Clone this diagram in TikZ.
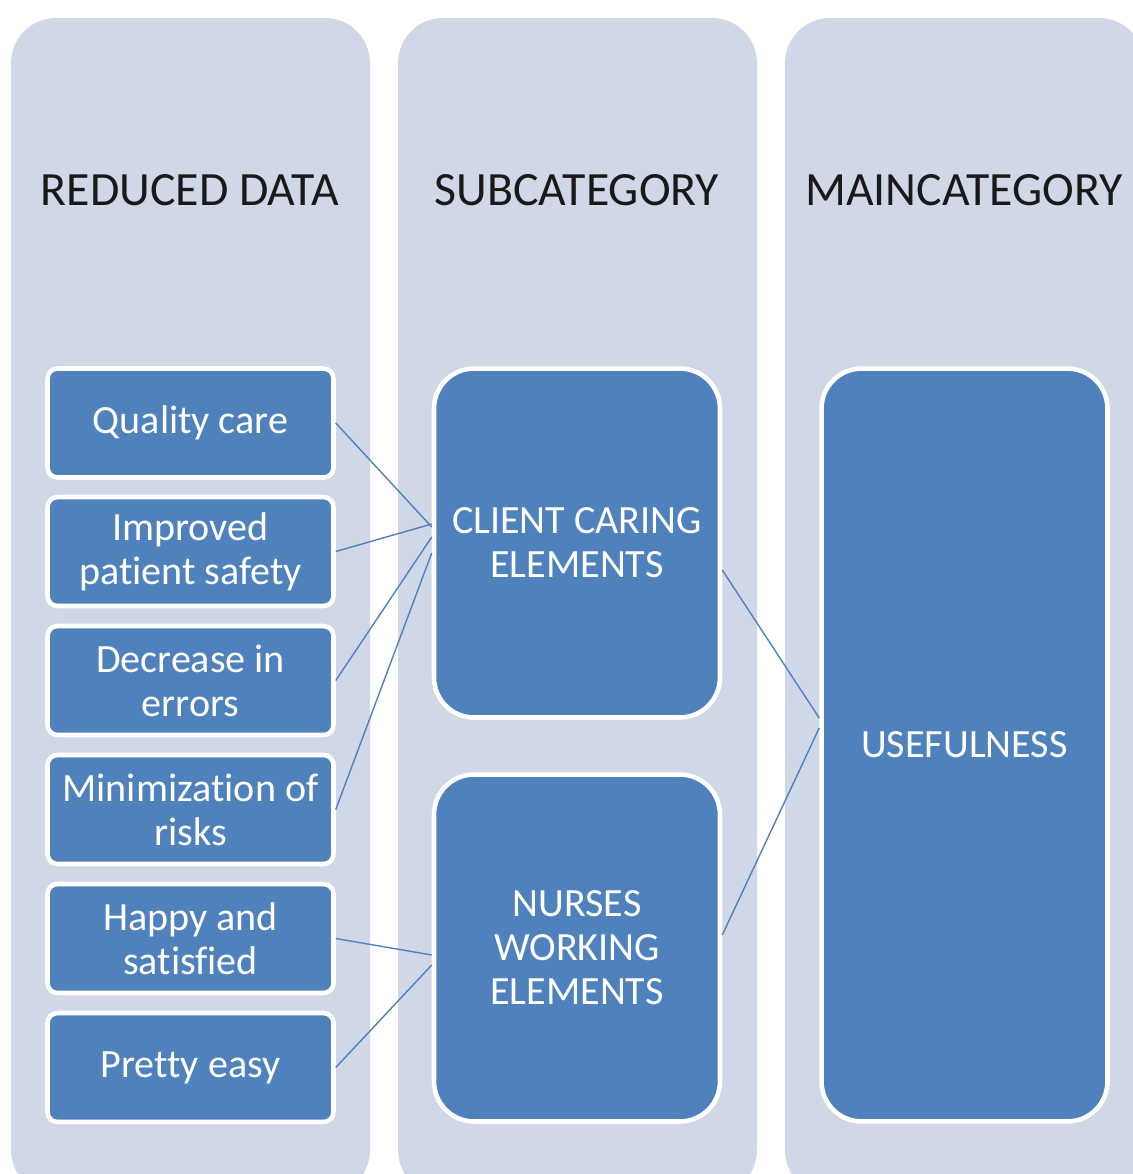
\documentclass[tikz,border=0pt]{standalone}
\usepackage{fontspec}
\setmainfont{Carlito}[Ligatures=NoCommon]
\definecolor{panelgray}{HTML}{D0D8E8}
\definecolor{boxblue}{HTML}{4F81BD}
\begin{document}
\begin{tikzpicture}[x=0.02cm, y=-0.02cm,
    panel/.style={fill=panelgray, rounded corners=0.9cm},
    head/.style={font=\fontsize{27.2}{32}\selectfont, text=black!90},
    item/.style={draw=white, line width=2.6pt, fill=boxblue, text=white, rounded corners=0.2cm, minimum width=5.72cm, minimum height=2.18cm, align=center, inner sep=0pt, font=\fontsize{22.8}{25}\selectfont},
    cat/.style={item, rounded corners=0.8cm, minimum height=6.98cm},
    link/.style={draw=boxblue, line width=0.8pt}]
  \useasboundingbox (0,0) rectangle (1133,1174);
  \clip (0,0) rectangle (1133,1174);
  \fill[panel] (11,18) rectangle (370,1195);
  \fill[panel] (398,18) rectangle (757,1195);
  \fill[panel] (785,18) rectangle (1144,1195);
  \node[head] (h1) at (190,190) {REDUCED DATA};
  \node[head] (h2) at (577,190) {SUBCATEGORY};
  \node[head] (h3) at (964,190) {MAINCATEGORY};
  \node[item] (quality) at (190.5,423) {Quality care};
  \node[item] (safety) at (190.5,551.5) {Improved\\patient safety};
  \node[item] (errors) at (190.5,680.5) {Decrease in\\errors};
  \node[item] (risks) at (190.5,809.5) {Minimization of\\risks};
  \node[item] (happy) at (190.5,938.5) {Happy and\\satisfied};
  \node[item] (easy) at (190.5,1067.5) {Pretty easy};
  \node[cat] (client) at (577,543) {CLIENT CARING\\ELEMENTS};
  \node[cat, minimum height=6.94cm] (nurses) at (577,948) {NURSES\\WORKING\\ELEMENTS};
  \node[cat, minimum height=15.06cm] (useful) at (964.5,745) {USEFULNESS};
  \draw[link] (quality.east) -- ([yshift=0.32cm]client.west);
  \draw[link] (safety.east) -- ([yshift=0.38cm]client.west);
  \draw[link] (errors.east) -- ([yshift=0.12cm]client.west);
  \draw[link] (risks.east) -- ([yshift=-0.2cm]client.west);
  \draw[link] (happy.east) -- ([yshift=-0.14cm]nurses.west);
  \draw[link] (easy.east) -- ([yshift=-0.34cm]nurses.west);
  \draw[link] ([yshift=-0.54cm]client.east) -- ([yshift=0.54cm]useful.west);
  \draw[link] ([yshift=0.26cm]nurses.east) -- ([yshift=0.34cm]useful.west);
\end{tikzpicture}
\end{document}
